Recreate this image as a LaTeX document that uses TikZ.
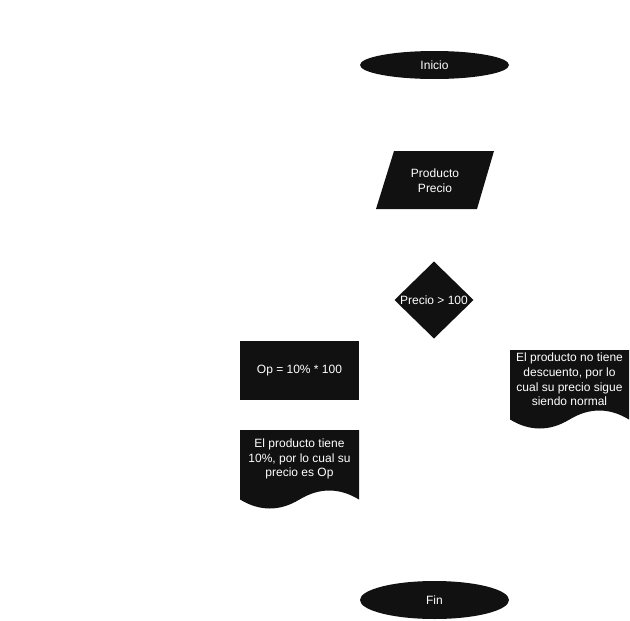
\documentclass[tikz,border=0pt]{standalone}
\usepackage{fontspec}
\setmainfont{Liberation Sans}
\usetikzlibrary{shapes.geometric}
\definecolor{shapefill}{HTML}{111111}
\tikzset{
  lbl/.style={text=white, font=\fontsize{12}{14.6}\selectfont, align=center, inner sep=0pt},
  terminal/.style={ellipse, fill=shapefill, minimum width=149pt, minimum height=29pt, inner sep=0pt, lbl},
  procbox/.style={rectangle, fill=shapefill, minimum width=119pt, minimum height=59pt, inner sep=0pt, lbl},
  shapebg/.style={fill=shapefill}
}
\begin{document}
\begin{tikzpicture}[x=1pt,y=-1pt]
\useasboundingbox (0,0) rectangle (630,621);

% Inicio
\node[terminal, minimum height=28pt] (inicio) at (434.5,65) {Inicio};

% input parallelogram
\fill[shapebg] (394,151) -- (494,151) -- (477,209) -- (376,209) -- cycle;
\node[lbl] (entrada) at (435,180.5) {Producto\\Precio};

% decision diamond
\fill[shapebg] (434,261.5) -- (473.5,300) -- (434,338.5) -- (394.5,300) -- cycle;
\node[lbl] (decision) at (434,300) {Precio > 100};

% process
\node[procbox] (op) at (299.5,370.5) {Op = 10\% * 100};

% document 1
\fill[shapebg] (240,430) -- (359,430) -- (359,499.5)
  .. controls (339.17,487.5) and (319.33,487.5) .. (299.5,499.5)
  .. controls (279.67,511.5) and (259.83,511.5) .. (240,499.5) -- cycle;
\node[lbl] (doc1) at (299.5,459) {El producto tiene\\10\%, por lo cual su\\precio es Op};

% document 2
\fill[shapebg] (510,350) -- (629,350) -- (629,419.5)
  .. controls (609.17,407.5) and (589.33,407.5) .. (569.5,419.5)
  .. controls (549.67,431.5) and (529.83,431.5) .. (510,419.5) -- cycle;
\node[lbl] (doc2) at (569.5,379.5) {El producto no tiene\\descuento, por lo\\cual su precio sigue\\siendo normal};

% Fin
\node[terminal, minimum height=38pt] (fin) at (434.5,600) {Fin};
\end{tikzpicture}
\end{document}
